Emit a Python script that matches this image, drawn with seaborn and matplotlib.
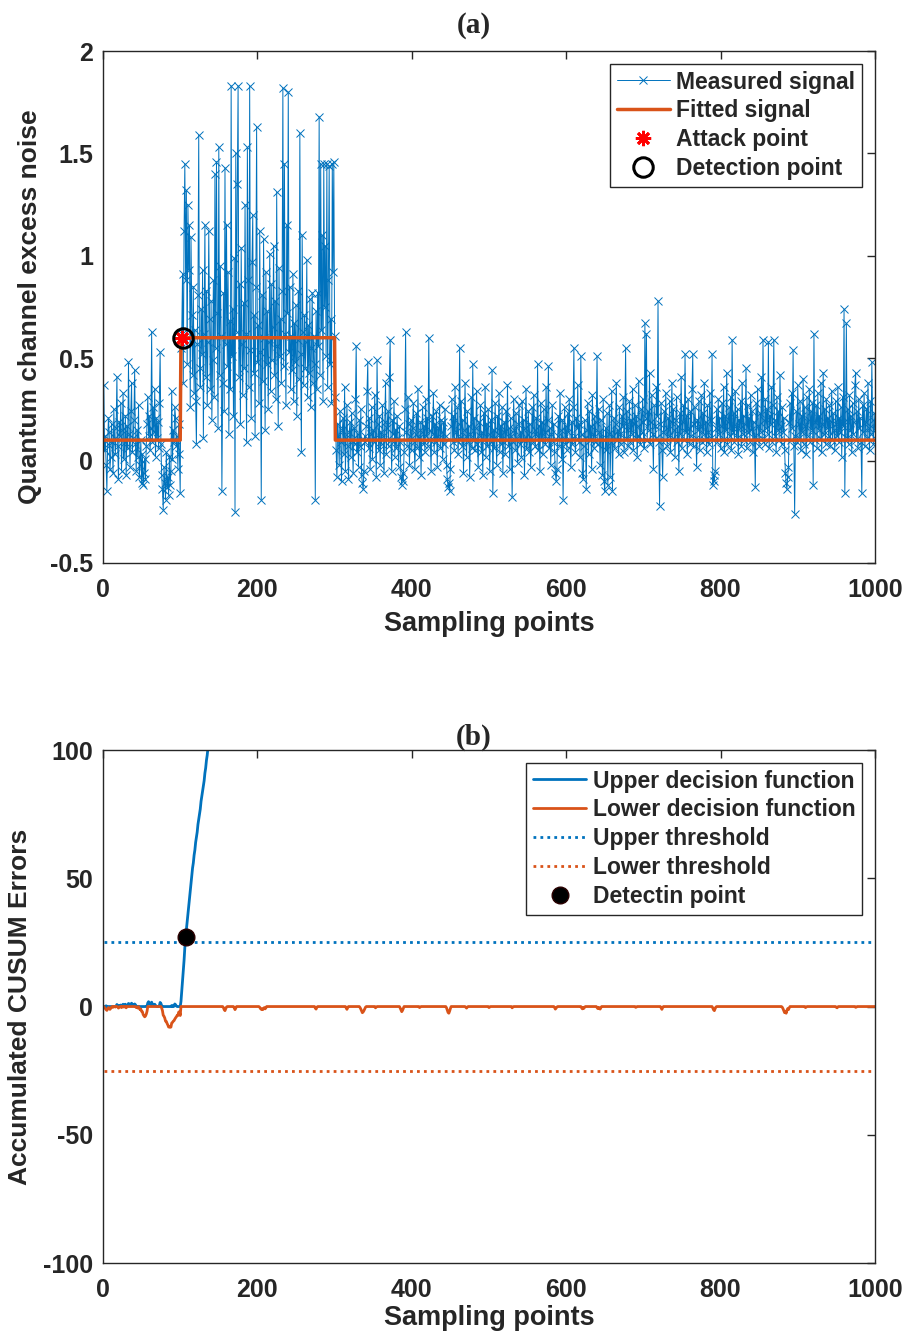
import numpy as np
import pandas as pd
import matplotlib
matplotlib.use("Agg")
import matplotlib.pyplot as plt
from matplotlib.ticker import FuncFormatter
import seaborn as sns

# ===============================
# DATA
# ===============================

# (a) measured excess noise, sampling points 1..100 (before attack)
noise_before = [
    0.37, 0.05, 0.12, -0.02, -0.15, 0.08, 0.21, 0.14, -0.04, 0.02, 0.18, 0.09, -0.06, 0.25, 0.11, 0.03, 0.16, 0.41, 0.07, -0.09,
    0.19, 0.12, 0.28, -0.05, 0.15, 0.33, 0.01, 0.09, 0.22, -0.07, 0.17, 0.06, 0.48, 0.13, -0.03, 0.24, 0.38, 0.04, 0.11, 0.20,
    0.44, 0.08, -0.05, 0.15, 0.02, 0.27, -0.08, -0.02, 0.10, -0.11, 0.03, -0.12, -0.06, 0.01, -0.09, 0.07, 0.18, 0.31, 0.12, 0.22,
    0.05, 0.16, 0.63, 0.09, 0.26, 0.14, 0.35, 0.02, 0.21, 0.11, 0.19, 0.06, 0.28, 0.53, 0.08, -0.07, -0.14, -0.24, -0.03, -0.11,
    -0.19, 0.04, -0.13, -0.08, -0.17, 0.02, -0.12, -0.05, 0.34, 0.01, 0.15, 0.09, 0.26, 0.21, 0.07, 0.12, -0.04, 0.18, 0.03, -0.16,
]

# sampling points 101..300 (under attack)
noise_attack = [
    0.55, 0.62, 0.91, 0.38, 1.12, 1.45, 0.88, 1.32, 0.47, 1.25, 0.93, 1.15, 0.26, 1.09, 0.71, 0.42, 0.85, 0.33, 0.64, 0.29,
    0.08, 0.57, 0.81, 1.59, 0.45, 0.36, 0.74, 0.52, 0.93, 0.11, 0.62, 1.15, 0.41, 0.83, 0.27, 0.58, 1.12, 0.69, 0.35, 0.78,
    0.20, 0.49, 0.88, 0.31, 1.40, 0.55, 1.46, 0.72, 0.16, 1.53, 0.42, 0.95, 0.61, -0.15, 0.38, 0.82, 0.24, 1.43, 0.57, 1.15,
    0.46, 0.92, 0.13, 0.68, 0.35, 1.83, 0.51, 0.74, 0.22, 0.99, -0.25, 1.50, 0.63, 1.35, 1.83, 0.41, 0.86, 0.18, 1.04, 0.57,
    0.32, 0.77, 0.45, 1.25, 0.62, 0.09, 1.53, 0.88, 0.36, 1.83, 0.54, 0.21, 0.97, 1.20, 0.43, 0.71, 0.12, 0.85, 1.63, 0.48,
    0.66, 0.28, 1.12, 0.53, -0.19, 0.81, 0.39, 1.08, 0.60, 0.15, 0.92, 0.47, 0.73, 0.25, 0.58, 1.01, 0.34, 0.86, 0.49, 0.65,
    1.05, 0.42, 0.78, 0.30, 1.31, 0.56, 0.17, 0.94, 0.51, 0.69, 0.38, 0.83, 1.82, 0.46, 1.45, 0.62, 0.27, 1.15, 0.72, 1.80,
    0.53, 0.85, 0.35, 0.61, 0.44, 0.91, 0.29, 0.67, 0.48, 0.76, 0.22, 0.59, 0.83, 0.40, 1.60, 0.52, 0.04, 1.10, 0.63, 0.37,
    0.71, 0.45, 0.58, 0.98, 0.31, 0.66, 0.43, 0.79, 0.26, 0.55, 0.82, 0.38, 0.61, 0.47, -0.19, 0.73, 0.35, 0.82, 0.56, 1.68,
    0.42, 1.45, 0.64, 1.10, 0.29, 1.45, 0.75, 1.05, 0.51, 1.45, 0.36, 0.88, 1.44, 0.47, 0.69, 0.28, 1.45, 0.92, 1.46, 0.61,
]

# sampling points 301..1000 (after attack)
noise_after = [
    0.31, 0.05, -0.08, 0.18, 0.12, -0.02, 0.24, 0.09, -0.10, 0.15, 0.21, 0.03, 0.36, -0.05, 0.11, 0.27, 0.07, -0.09, 0.14, 0.19,
    0.02, 0.23, 0.10, -0.06, 0.16, 0.08, 0.30, 0.56, 0.04, 0.13, -0.03, 0.20, 0.07, 0.25, -0.07, -0.11, -0.14, -0.05, 0.12, 0.09,
    0.17, 0.34, 0.48, 0.06, 0.21, -0.04, 0.13, 0.26, 0.01, 0.15, 0.09, 0.32, 0.11, -0.08, 0.49, 0.18, 0.05, 0.22, -0.02, 0.14,
    0.08, 0.27, 0.12, -0.06, 0.19, 0.38, 0.03, 0.16, 0.24, 0.07, 0.41, 0.59, 0.10, -0.05, 0.20, 0.13, 0.29, 0.02, 0.15, 0.06,
    0.22, 0.11, -0.03, 0.17, 0.09, -0.08, -0.12, -0.06, -0.10, 0.04, 0.25, 0.63, 0.14, 0.07, 0.31, 0.18, -0.02, 0.12, 0.20, 0.05,
    0.16, 0.28, 0.09, -0.04, 0.13, 0.23, 0.06, 0.35, 0.11, 0.02, 0.19, -0.07, 0.14, 0.26, 0.08, 0.17, 0.04, 0.30, 0.12, 0.21,
    0.07, 0.60, 0.15, 0.10, -0.05, 0.22, 0.13, 0.33, 0.04, 0.18, 0.09, 0.24, -0.03, 0.16, 0.11, 0.27, 0.06, 0.20, 0.14, 0.01,
    0.19, 0.08, 0.25, 0.12, -0.02, -0.09, -0.13, -0.11, -0.15, -0.04, 0.17, 0.30, 0.09, 0.22, 0.05, 0.36, 0.14, 0.10, 0.26, 0.03,
    0.18, 0.55, 0.11, 0.29, 0.07, 0.20, -0.06, 0.15, 0.38, 0.12, 0.02, 0.24, 0.09, 0.17, -0.08, 0.13, 0.31, 0.06, 0.47, 0.10,
    0.21, 0.05, 0.16, 0.34, 0.08, -0.03, 0.19, 0.12, 0.27, 0.04, 0.14, -0.07, 0.23, 0.10, 0.36, 0.02, 0.18, 0.07, 0.25, 0.13,
    -0.05, 0.20, 0.09, 0.44, -0.16, 0.15, 0.06, 0.28, 0.11, -0.02, 0.22, 0.13, 0.33, 0.04, 0.17, 0.08, 0.26, -0.06, 0.14, 0.19,
    0.03, 0.24, 0.10, 0.37, 0.07, 0.16, -0.04, 0.21, 0.12, -0.18, 0.09, 0.30, 0.15, 0.05, 0.23, 0.11, -0.01, 0.18, 0.27, 0.08,
    0.14, 0.02, 0.29, 0.10, 0.20, -0.07, 0.16, 0.35, 0.06, 0.13, 0.24, 0.04, 0.18, -0.03, 0.11, 0.26, 0.09, 0.32, 0.15, 0.07,
    0.21, 0.12, 0.47, 0.05, 0.17, -0.05, 0.28, 0.10, 0.19, 0.03, 0.25, 0.14, 0.08, 0.36, 0.11, 0.20, 0.46, 0.06, 0.16, -0.02,
    0.13, 0.27, 0.09, 0.18, 0.04, -0.06, -0.10, -0.04, 0.12, 0.22, 0.07, 0.33, 0.15, 0.01, 0.20, -0.19, 0.11, 0.26, 0.08, 0.17,
    0.05, 0.23, 0.14, 0.30, 0.10, -0.03, 0.19, 0.08, 0.26, 0.55, 0.12, 0.04, 0.21, 0.16, 0.37, 0.09, 0.18, 0.02, 0.51, 0.13,
    -0.06, -0.09, 0.07, 0.20, 0.11, -0.14, 0.15, 0.28, 0.03, 0.24, 0.10, 0.17, -0.04, 0.32, 0.13, 0.06, 0.22, 0.09, 0.19, 0.51,
    0.08, 0.25, 0.14, -0.02, 0.20, 0.11, -0.07, 0.30, -0.10, -0.15, 0.16, 0.05, 0.23, -0.12, 0.13, 0.27, -0.08, 0.09, 0.34, -0.15,
    0.12, 0.21, 0.06, 0.18, 0.38, 0.10, 0.15, 0.03, 0.26, 0.13, 0.08, 0.22, 0.17, 0.31, 0.04, 0.19, 0.55, 0.11, 0.24, 0.07,
    0.16, 0.29, 0.09, 0.20, 0.13, 0.35, 0.05, 0.18, 0.27, 0.11, 0.22, 0.02, 0.17, 0.39, 0.12, 0.08, 0.25, 0.14, 0.30, 0.19,
    0.06, 0.67, 0.21, 0.62, 0.10, 0.24, 0.15, 0.43, 0.08, 0.19, 0.32, 0.13, -0.04, 0.27, 0.17, 0.11, 0.36, 0.22, 0.78, 0.09,
    -0.22, 0.18, 0.28, 0.05, -0.08, 0.14, 0.24, 0.10, 0.33, 0.16, 0.07, 0.21, 0.12, 0.29, 0.04, 0.19, 0.38, 0.11, 0.25, 0.15,
    0.02, 0.20, 0.31, 0.09, 0.17, -0.05, 0.23, 0.13, 0.41, 0.06, 0.19, 0.27, 0.10, 0.52, 0.14, 0.22, 0.03, 0.30, 0.16, 0.08,
    0.24, 0.12, 0.35, 0.52, 0.07, 0.18, 0.26, 0.11, -0.03, 0.20, 0.15, 0.29, 0.05, 0.17, 0.32, 0.09, 0.23, 0.13, 0.38, 0.10,
    0.19, 0.04, 0.27, 0.14, 0.08, 0.33, 0.20, 0.11, 0.52, -0.12, -0.07, -0.10, -0.05, 0.16, 0.25, 0.09, 0.30, 0.13, 0.21, 0.06,
    0.17, 0.28, 0.10, 0.36, 0.04, 0.22, 0.15, 0.43, 0.08, 0.19, 0.26, 0.12, 0.31, 0.05, 0.59, 0.14, 0.23, 0.09, 0.34, 0.17,
    0.11, 0.25, 0.03, 0.20, 0.16, 0.29, 0.07, 0.38, 0.13, 0.22, 0.10, 0.18, 0.45, 0.06, 0.27, 0.14, 0.21, 0.09, 0.32, 0.15,
    0.24, 0.04, 0.19, 0.12, -0.13, 0.28, 0.10, 0.35, 0.17, 0.07, 0.23, 0.14, 0.41, 0.11, 0.59, 0.20, 0.08, 0.30, 0.16, 0.25,
    0.13, 0.58, 0.06, 0.22, 0.18, 0.36, 0.09, 0.27, 0.59, 0.12, 0.20, 0.04, 0.31, 0.15, 0.24, 0.10, 0.42, 0.17, 0.08, 0.26,
    0.14, 0.21, 0.05, -0.06, -0.11, -0.14, -0.08, -0.03, 0.19, 0.28, 0.10, 0.33, 0.16, 0.54, 0.07, -0.26, 0.12, 0.24, 0.09, 0.37,
    0.18, 0.11, 0.29, 0.05, 0.22, 0.14, 0.40, 0.08, 0.26, 0.17, 0.03, 0.31, 0.12, 0.20, 0.35, 0.09, 0.24, 0.15, 0.28, -0.12,
    0.62, 0.10, 0.19, 0.27, 0.06, 0.33, 0.15, 0.22, 0.11, 0.38, 0.04, 0.18, 0.43, 0.13, 0.25, 0.08, 0.30, 0.16, 0.21, 0.12,
    0.27, 0.07, 0.19, 0.34, 0.10, 0.23, 0.15, 0.05, 0.29, 0.18, 0.12, 0.36, 0.09, 0.21, 0.14, 0.26, 0.02, 0.31, 0.17, 0.74,
    -0.16, 0.20, 0.67, 0.11, 0.25, 0.08, 0.32, 0.15, 0.22, 0.04, 0.28, 0.13, 0.19, 0.37, 0.43, 0.10, 0.24, 0.06, 0.30, 0.16,
    0.21, 0.09, -0.16, 0.27, 0.14, 0.33, 0.07, 0.19, 0.25, 0.11, 0.38, 0.16, 0.05, 0.29, 0.13, 0.48, 0.20, 0.08, 0.23, 0.15,
]

# fitted step signal (corners)
fit_x = [1, 100, 101, 300, 301, 1000]
fit_y = [0.1, 0.1, 0.6, 0.6, 0.1, 0.1]

attack_point = (102, 0.6)
detect_point_a = (103, 0.6)

# (b) CUSUM upper decision function, sampling points 1..136
upper_cusum = [
    0, 0, 0, 0.3, 0, 0, 0, 0, 0, 0, 0, 0, 0, 0, 0, 0, 0.2, 0.8, 0.4, 0,
    0.3, 0.1, 0.6, 0, 0.2, 0.9, 0.5, 0.4, 0.9, 0.3, 0.5, 0.3, 1.2, 1.0, 0.6, 0.8, 1.3, 0.9, 0.7, 0.6,
    1.0, 0.7, 0.2, 0, 0, 0.1, 0, 0, 0, 0, 0, 0, 0, 0, 0, 0, 0.1, 1.4, 1.9, 1.4,
    1.1, 0.7, 1.7, 0.9, 0.8, 0.5, 0.9, 0.3, 0.2, 0, 0, 0, 0.3, 1.6, 1.2, 0.3, 0, 0, 0, 0,
    0, 0, 0, 0, 0, 0, 0, 0, 0.4, 0, 0.3, 0.1, 1.0, 0.7, 0.2, 0, 0, 0, 0, 0,
    2, 6, 10, 14, 18, 23, 27, 30, 33, 36, 39, 42, 45, 48, 51, 54, 56, 59, 61, 64,
    66, 68, 71, 73, 75, 77, 80, 82, 84, 86, 88, 91, 93, 96, 98, 101,
]

# CUSUM lower decision function: flat at 0 except these dips
lower_dip_start = [1, 41, 76, 156, 170, 203, 275, 315, 333, 353, 385, 410, 445, 470,
                   500, 530, 585, 620, 640, 690, 723, 790, 880, 910, 950, 975]
lower_dip_vals = [
    [0, -0.5, -0.8, -1.2, -1.5, -1.0, -0.4, -0.6, -1.1, -0.7, -0.2, 0, -0.3, 0, 0, -0.2, 0, 0, -0.1, -0.6,
     -0.3, 0, 0, -0.4, 0, 0, -0.2, 0, 0, -0.5],
    [0, 0, -0.4, -0.2, -0.6, 0, -0.6, -1.2, -1.0, -1.9, -2.0, -3.1, -3.6, -4.0, -3.7, -3.0, -1.9],
    [-0.6, -1.6, -3.4, -3.8, -4.5, -5.7, -5.8, -6.6, -7.2, -8.0, -7.8, -8.1, -8.0, -6.4, -6.2,
     -5.7, -5.5, -4.9, -4.4, -4.0, -3.5, -3.5, -2.2, -2.0, -3.5],
    [-0.4, -1.2, -1.6, -0.8, -0.2],
    [-0.5, -1.2, -0.6],
    [-0.3, -0.8, -1.1, -0.9, -1.2, -0.7, -0.4, -0.9, -0.5],
    [-0.6, -1.0, -0.3],
    [-0.5, -1.1, -0.4],
    [-0.4, -1.0, -1.7, -2.4, -2.1, -1.6, -0.9, -0.3],
    [-0.5, -0.2],
    [-0.6, -1.3, -2.0, -1.5, -0.7],
    [-0.4, -0.2],
    [-0.5, -1.4, -2.3, -2.6, -1.8, -0.8],
    [-0.3, -0.6, -0.2],
    [-0.4, -0.2],
    [-0.5, -0.2],
    [-0.4, -1.0, -0.6, -0.2],
    [-0.5, -0.9, -0.3, -0.7, -0.2],
    [-0.4, -0.8, -0.3, -0.6, -1.0, -0.4],
    [-0.3, -0.2],
    [-0.5, -1.1, -0.4],
    [-0.6, -1.3, -1.6, -0.8, -0.2],
    [-0.3, -0.9, -1.6, -2.4, -1.9, -2.6, -1.5, -0.8, -1.2, -0.5],
    [-0.4, -0.2],
    [-0.3, -0.5, -0.1],
    [-0.3, -0.2],
]

upper_threshold = 25
lower_threshold = -25
detect_point_b = (107, 27)

# ===============================
# BUILD SERIES
# ===============================

signal = noise_before + noise_attack + noise_after
df_a = pd.DataFrame({"x": np.arange(1, len(signal) + 1), "y": signal})

lower_cusum = np.zeros(1000)
for s, vals in zip(lower_dip_start, lower_dip_vals):
    lower_cusum[s - 1:s - 1 + len(vals)] = vals
df_low = pd.DataFrame({"x": np.arange(1, 1001), "y": lower_cusum})
df_up = pd.DataFrame({"x": np.arange(1, len(upper_cusum) + 1), "y": upper_cusum})

BLUE = "#0072BD"
ORANGE = "#D95319"

# ===============================
# PLOT
# ===============================

sns.set_style("white")
plt.rcParams["font.family"] = ["Liberation Sans", "DejaVu Sans"]
plt.rcParams["font.weight"] = "bold"
plt.rcParams["axes.labelweight"] = "bold"
plt.rcParams["axes.unicode_minus"] = False

fig = plt.figure(figsize=(9.06, 13.36), dpi=100)
ax1 = fig.add_axes([0.1137, 0.5786, 0.852, 0.3832])
ax2 = fig.add_axes([0.1137, 0.0546, 0.852, 0.3840])

# ---- (a)
sns.lineplot(data=df_a, x="x", y="y", ax=ax1, color=BLUE, linewidth=0.7,
             marker="x", markersize=6, markeredgewidth=0.7, markeredgecolor=BLUE,
             label="Measured signal")
sns.lineplot(x=fit_x, y=fit_y, ax=ax1, color=ORANGE, linewidth=2.5,
             label="Fitted signal")
sns.lineplot(x=[attack_point[0]], y=[attack_point[1]], ax=ax1, color="red",
             marker=(8, 2, 0), markersize=11, markeredgewidth=2,
             markeredgecolor="red", linestyle="", label="Attack point")
sns.lineplot(x=[detect_point_a[0]], y=[detect_point_a[1]], ax=ax1, color="black",
             marker="o", markersize=14, markerfacecolor="none",
             markeredgewidth=2.2, markeredgecolor="black", linestyle="",
             label="Detection point")

ax1.set_xlim(0, 1000)
ax1.set_ylim(-0.5, 2)
ax1.set_yticks([-0.5, 0, 0.5, 1, 1.5, 2])
ax1.set_ylabel("Quantum channel excess noise", fontsize=19, labelpad=6)
ax1.set_title("(a)", x=0.48, pad=13, fontsize=21, fontweight="bold",
              family="Liberation Serif")

# ---- (b)
sns.lineplot(data=df_up, x="x", y="y", ax=ax2, color=BLUE, linewidth=2,
             label="Upper decision function")
sns.lineplot(data=df_low, x="x", y="y", ax=ax2, color=ORANGE, linewidth=2,
             label="Lower decision function")
sns.lineplot(x=[1, 1000], y=[upper_threshold] * 2, ax=ax2, color=BLUE,
             linewidth=2, linestyle=(0, (1, 1.5)), label="Upper threshold")
sns.lineplot(x=[1, 1000], y=[lower_threshold] * 2, ax=ax2, color=ORANGE,
             linewidth=2, linestyle=(0, (1, 1.5)), label="Lower threshold")
sns.lineplot(x=[detect_point_b[0]], y=[detect_point_b[1]], ax=ax2, color="black",
             marker="o", markersize=12, markerfacecolor="black",
             markeredgecolor="#2a0000", markeredgewidth=1, linestyle="",
             label="Detectin point")

ax2.set_xlim(0, 1000)
ax2.set_ylim(-100, 100)
ax2.set_yticks([-100, -50, 0, 50, 100])
ax2.set_ylabel("Accumulated CUSUM Errors", fontsize=19, labelpad=8)
ax2.set_title("(b)", x=0.48, pad=4, fontsize=21, fontweight="bold",
              family="Liberation Serif")

fmt = FuncFormatter(lambda v, p: f"{v:g}")
for ax, lp in ((ax1, 6), (ax2, 2)):
    ax.set_xticks([0, 200, 400, 600, 800, 1000])
    ax.xaxis.set_major_formatter(fmt)
    ax.yaxis.set_major_formatter(fmt)
    ax.set_xlabel("Sampling points", fontsize=19.5, labelpad=lp)
    ax.tick_params(direction="in", top=True, right=True, length=6, width=1,
                   labelsize=18, color="#262626")
    ax.tick_params(axis="x", pad=11)
    ax.tick_params(axis="y", pad=7)
    for lab in ax.get_xticklabels() + ax.get_yticklabels():
        lab.set_fontweight("bold")
    for sp in ax.spines.values():
        sp.set_visible(True)
        sp.set_color("#262626")
        sp.set_linewidth(1)
    leg = ax.legend(loc="upper right", fancybox=False, framealpha=1,
                    edgecolor="#262626", prop={"size": 16.5, "weight": "bold"},
                    handlelength=2.3, handletextpad=0.3, labelspacing=0.26,
                    borderaxespad=0.55, borderpad=0.3)
    leg.get_frame().set_linewidth(1)

plt.savefig("out.png", dpi=100)
